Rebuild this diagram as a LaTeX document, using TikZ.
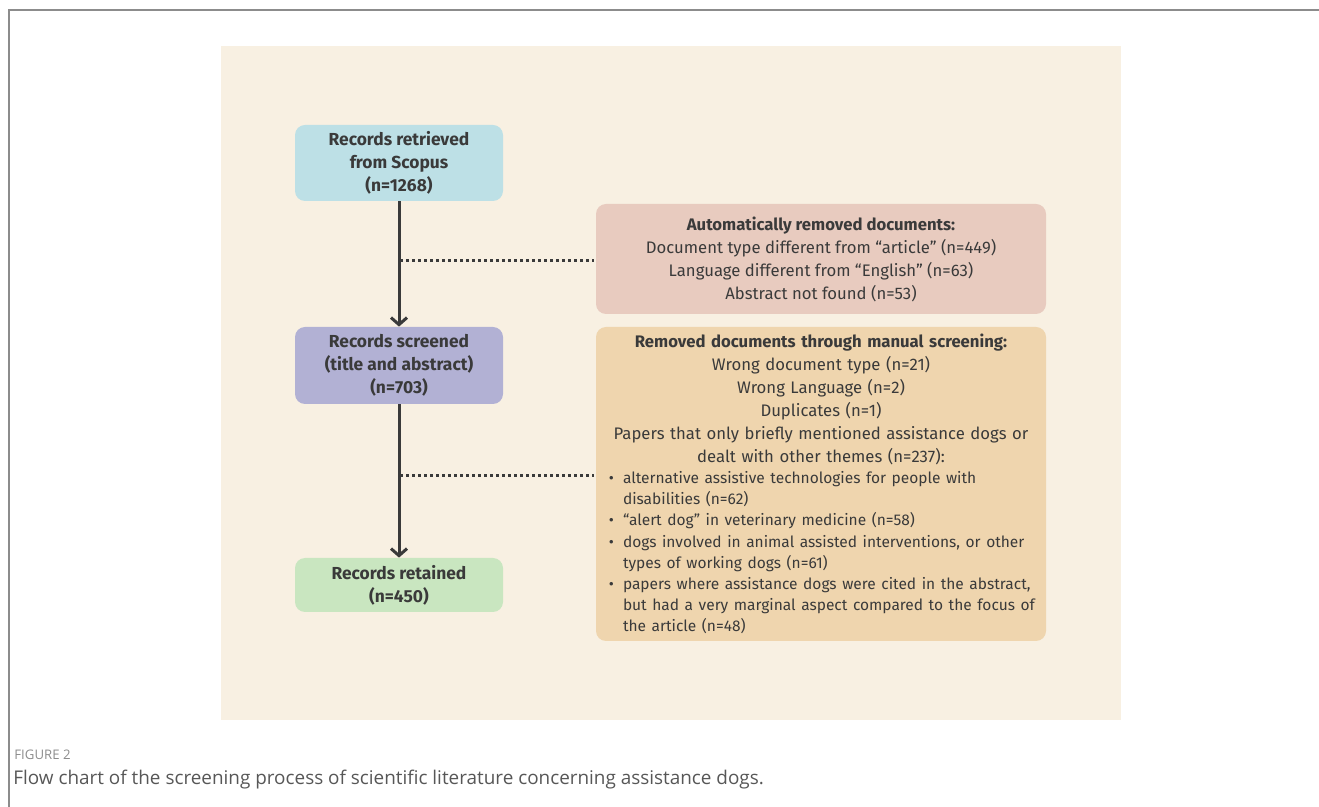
\documentclass[tikz,border=0pt]{standalone}
\usepackage{fontspec}
\setmainfont{Fira Sans}
\newfontfamily\captionfont{Open Sans}
\usepackage{enumitem}
\usetikzlibrary{
    arrows.meta,
    positioning,
}
\definecolor{framegray}{HTML}{8C8C8C}
\definecolor{panelbg}{HTML}{F8F0E2}
\definecolor{retrievedcol}{HTML}{BDE0E6}
\definecolor{screenedcol}{HTML}{B2B1D4}
\definecolor{retainedcol}{HTML}{C9E6C0}
\definecolor{autocol}{HTML}{E8CBBF}
\definecolor{manualcol}{HTML}{EFD5AE}
\definecolor{inkcol}{HTML}{3A3A3A}
\newcommand{\boxfont}{\fontsize{8.35}{11.5}\selectfont}
\newcommand{\recordfont}{\fontsize{8.7}{11.5}\selectfont}
\newcommand{\listfont}{\fontsize{7.75}{10.6}\selectfont}
\newcommand{\recordwidth}{104pt}
\newcommand{\removedwidth}{225pt}
\tikzstyle{flowarrow} = [-{Straight Barb[length=3.5pt,width=8pt,line width=1.5pt]}, line width=1.5pt, color=inkcol]
\tikzstyle{linkdots} = [line width=1.5pt, color=inkcol, dash pattern=on 1.5pt off 1.5pt, shorten >=1pt]
\tikzstyle{recordbox} = [
  shape=rectangle,
  rounded corners=5pt,
  text=inkcol,
  font=\recordfont\bfseries,
  align=center,
  minimum width=\recordwidth,
  inner sep=2pt,
]
\tikzstyle{removedbox} = [
  shape=rectangle,
  rounded corners=5pt,
  text=inkcol,
  font=\boxfont,
  minimum width=\removedwidth,
  inner sep=2pt,
]

\begin{document}
\begin{tikzpicture}[x=0.5pt, y=-0.5pt]
    \useasboundingbox (0,0) rectangle (1319,807);
    \draw[framegray, line width=1pt] (9,807) -- (9,10) -- (1319,10);
    \fill[panelbg] (221,46) rectangle (1121,720);

    \node[recordbox, fill=retrievedcol, minimum height=38pt] (retrieved) at (399,163)
      {Records retrieved\\from Scopus\\(n=1268)};
    \node[recordbox, fill=screenedcol, minimum height=38.5pt] (screened) at (399,365.5)
      {Records screened\\(title and abstract)\\(n=703)};
    \node[recordbox, fill=retainedcol, minimum height=27pt] (retained) at (399,585)
      {Records retained\\(n=450)};

    \node[removedbox, fill=autocol, align=center, minimum height=55pt] (auto) at (821,259)
      {\textbf{Automatically removed documents:}\\
       Document type different from “article” (n=449)\\
       Language different from “English” (n=63)\\
       Abstract not found (n=53)};
    \node[removedbox, fill=manualcol, text width=217pt, inner xsep=4pt, minimum height=157pt] (manual) at (821,484)
      {{\centering\textbf{Removed documents through manual screening:}\\
        Wrong document type (n=21)\\
        Wrong Language (n=2)\\
        Duplicates (n=1)\\
        Papers that only briefly mentioned assistance dogs or\\
        dealt with other themes (n=237):\par}
       \listfont
       \begin{itemize}[leftmargin=9.5pt, labelsep=4.5pt, topsep=0pt, partopsep=0pt, itemsep=0pt, parsep=0pt]
         \raggedright
         \item alternative assistive technologies for people with\newline disabilities (n=62)
         \item “alert dog” in veterinary medicine (n=58)
         \item dogs involved in animal assisted interventions, or other\newline types of working dogs (n=61)
         \item papers where assistance dogs were cited in the abstract,\newline but had a very marginal aspect compared to the focus of\newline the article (n=48)
       \end{itemize}};

    % main flow
    \draw[flowarrow] (retrieved) -- (screened);
    \draw[flowarrow] (screened) -- (retained);

    % links to the removed documents
    \coordinate (autojoin) at (400,261);
    \coordinate (manualjoin) at (400,476);
    \draw[linkdots] (autojoin) -- (autojoin -| auto.west);
    \draw[linkdots] (manualjoin) -- (manualjoin -| manual.west);

    \node[anchor=base west, inner sep=0pt, text=framegray, font=\captionfont\fontsize{6.6}{8}\selectfont] (figlabel) at (14,760) {FIGURE 2};
    \node[anchor=base west, inner sep=0pt, text=inkcol!85, font=\captionfont\fontsize{9.45}{11}\selectfont] (figcaption) at (13,784)
      {Flow chart of the screening process of scientific literature concerning assistance dogs.};
\end{tikzpicture}
\end{document}
